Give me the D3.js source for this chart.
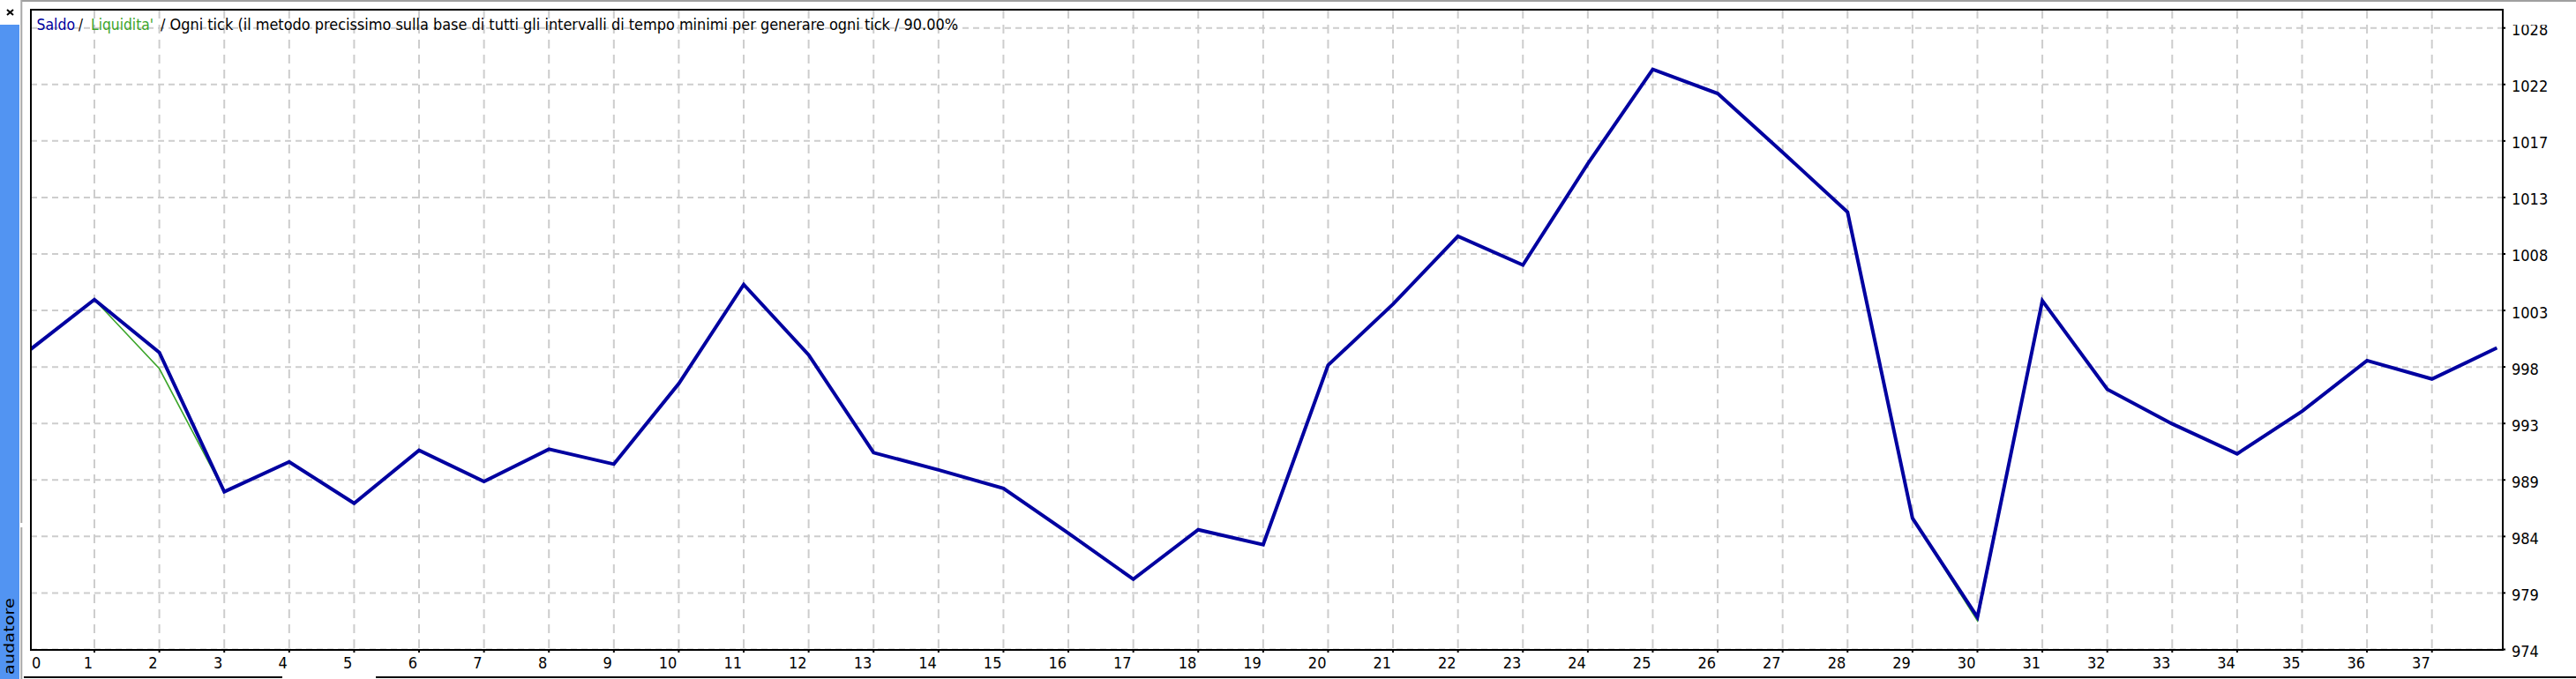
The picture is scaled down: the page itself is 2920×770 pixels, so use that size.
<!DOCTYPE html>
<html>
<head>
<meta charset="utf-8">
<script src="https://cdn.jsdelivr.net/npm/d3@7"></script>
<style>
  html, body { margin: 0; padding: 0; background: #ffffff; }
  svg { display: block; }
  .lab { font-family: "Liberation Sans Narrow", "DejaVu Sans Condensed", "DejaVu Sans", sans-serif; font-size: 18px; fill: #000; }
</style>
</head>
<body>
<svg id="chart" width="2920" height="770"></svg>
<script>
// ---- data ----
const xTickLabels = ["0","1","2","3","4","5","6","7","8","9","10","11","12","13","14","15","16","17","18","19","20","21","22","23","24","25","26","27","28","29","30","31","32","33","34","35","36","37"];
const yTickLabels = ["974","979","984","989","993","998","1003","1008","1013","1017","1022","1028"];
const yMin = 974, yMax = 1028;
const tradeIndex = [0,1,2,3,4,5,6,7,8,9,10,11,12,13,14,15,16,17,18,19,20,21,22,23,24,25,26,27,28,29,30,31,32,33,34,35,36,37,38];
const balance = [1000.0,1004.4,999.8,987.7,990.3,986.7,991.3,988.6,991.4,990.1,997.1,1005.7,999.6,991.1,989.6,988.0,984.1,980.1,984.4,983.1,998.7,1004.0,1009.9,1007.4,1016.2,1024.4,1022.3,1017.2,1012.0,985.4,976.8,1004.3,996.6,993.6,991.0,994.7,999.1,997.5,1000.2];
const equity  = [1000.0,1004.4,998.4,987.7,990.3,986.7,991.3,988.6,991.4,990.1,997.1,1005.7,999.6,991.1,989.6,988.0,984.1,980.1,984.4,983.1,998.7,1004.0,1009.9,1007.4,1016.2,1024.4,1022.3,1017.2,1012.0,985.4,976.5,1004.3,996.6,993.6,991.0,994.7,999.1,997.5,1000.2];
const titleParts = ["Saldo", "/", "Liquidita'", "/ Ogni tick (il metodo precissimo sulla base di tutti gli intervalli di tempo minimi per generare ogni tick / 90.00%"];
const sideLabel = "audatore";

// ---- layout ----
const svg = d3.select("#chart");
const frame = { left: 35, right: 2837, top: 11, bottom: 737 };
const x = d3.scaleLinear().domain([0, 37]).range([33.4, 2756.7]);
const y = d3.scaleLinear().domain([yMin, yMax]).range([736.5, 31.7]);
const yTickVals = yTickLabels.map((d, i) => yMin + i * (yMax - yMin) / (yTickLabels.length - 1));

const defs = svg.append("defs");
defs.append("clipPath").attr("id", "plotClip").append("rect")
  .attr("x", frame.left).attr("y", frame.top)
  .attr("width", frame.right - frame.left).attr("height", frame.bottom - frame.top);
defs.append("clipPath").attr("id", "yLabClip").append("rect")
  .attr("x", frame.right).attr("y", 28.3).attr("width", 100).attr("height", 681 - 28.3);

// window chrome
svg.append("rect").attr("x", 25).attr("y", 0).attr("width", 2895).attr("height", 2).attr("fill", "#a0a0a0");
svg.append("rect").attr("x", 0).attr("y", 28).attr("width", 22).attr("height", 742).attr("fill", "#5294f2");
svg.append("rect").attr("x", 23.3).attr("y", 0).attr("width", 2).attr("height", 593).attr("fill", "#a8a8a8");
svg.append("rect").attr("x", 23.3).attr("y", 598).attr("width", 2).attr("height", 172).attr("fill", "#a8a8a8");
svg.append("g").attr("stroke", "#000").attr("stroke-width", 2)
  .selectAll("line").data([[8, 11, 15, 17], [15, 11, 8, 17]]).join("line")
  .attr("x1", d => d[0]).attr("y1", d => d[1]).attr("x2", d => d[2]).attr("y2", d => d[3]);
svg.append("text").attr("transform", "translate(15.5,765) rotate(-90)")
  .attr("text-anchor", "start").attr("font-family", "'DejaVu Sans', sans-serif")
  .attr("font-size", 16).attr("fill", "#000")
  .attr("textLength", 87).attr("lengthAdjust", "spacingAndGlyphs").text(sideLabel);
svg.append("rect").attr("x", 27).attr("y", 767).attr("width", 293).attr("height", 2).attr("fill", "#000");
svg.append("rect").attr("x", 426).attr("y", 767).attr("width", 2494).attr("height", 2).attr("fill", "#000");

// grid
const grid = svg.append("g").attr("clip-path", "url(#plotClip)");
grid.selectAll("line.h").data(yTickVals).join("line").attr("class", "h")
  .attr("x1", frame.left).attr("x2", frame.right)
  .attr("y1", d => y(d)).attr("y2", d => y(d))
  .attr("stroke", "#cdcdcd").attr("stroke-width", 2).attr("stroke-dasharray", "7,5");
grid.selectAll("line.v").data(xTickLabels.slice(1)).join("line").attr("class", "v")
  .attr("x1", d => x(+d)).attr("x2", d => x(+d))
  .attr("y1", frame.top).attr("y2", frame.bottom)
  .attr("stroke", "#cdcdcd").attr("stroke-width", 2).attr("stroke-dasharray", "10,7");

// title
const titleX = [[41.5, 43.5, "#0000a0"], [89, 5, "#000"], [103, 71, "#3ca52a"], [182, 904, "#000"]];
svg.append("g").selectAll("text").data(titleParts).join("text").attr("class", "lab")
  .attr("x", (d, i) => titleX[i][0]).attr("y", 34)
  .attr("textLength", (d, i) => titleX[i][1]).attr("lengthAdjust", "spacingAndGlyphs")
  .style("fill", (d, i) => titleX[i][2]).text(d => d);

// lines
const lineGen = d3.line().x((d, i) => x(tradeIndex[i])).y(d => y(d));
const plot = svg.append("g").attr("clip-path", "url(#plotClip)");
plot.append("path").datum(equity).attr("d", lineGen)
  .attr("fill", "none").attr("stroke", "#3ca52a").attr("stroke-width", 1.6);
plot.append("path").datum(balance).attr("d", lineGen)
  .attr("fill", "none").attr("stroke", "#0000a0").attr("stroke-width", 4).attr("stroke-linejoin", "miter");

// frame
svg.append("rect").attr("x", frame.left).attr("y", frame.top)
  .attr("width", frame.right - frame.left).attr("height", frame.bottom - frame.top)
  .attr("fill", "none").attr("stroke", "#000").attr("stroke-width", 2);

// x axis ticks & labels
const xa = svg.append("g");
xa.selectAll("line").data(xTickLabels.slice(1)).join("line")
  .attr("x1", d => x(+d)).attr("x2", d => x(+d)).attr("y1", frame.bottom).attr("y2", frame.bottom + 3)
  .attr("stroke", "#000").attr("stroke-width", 2);
xa.selectAll("text").data(xTickLabels).join("text").attr("class", "lab")
  .attr("x", (d, i) => i === 0 ? 36 : x(+d) - 2)
  .attr("text-anchor", (d, i) => i === 0 ? "start" : "end")
  .attr("y", 757.5).text(d => d);

// y axis ticks & labels
const ya = svg.append("g");
ya.selectAll("line").data(yTickVals).join("line")
  .attr("x1", frame.right).attr("x2", frame.right + 3).attr("y1", d => y(d)).attr("y2", d => y(d))
  .attr("stroke", "#000").attr("stroke-width", 2);
ya.selectAll("text").data(yTickLabels).join("text").attr("class", "lab")
  .attr("clip-path", (d, i) => i === 0 ? null : "url(#yLabClip)")
  .attr("x", 2847).attr("y", (d, i) => y(yTickVals[i]) + 8.5).text(d => d);
</script>
</body>
</html>
